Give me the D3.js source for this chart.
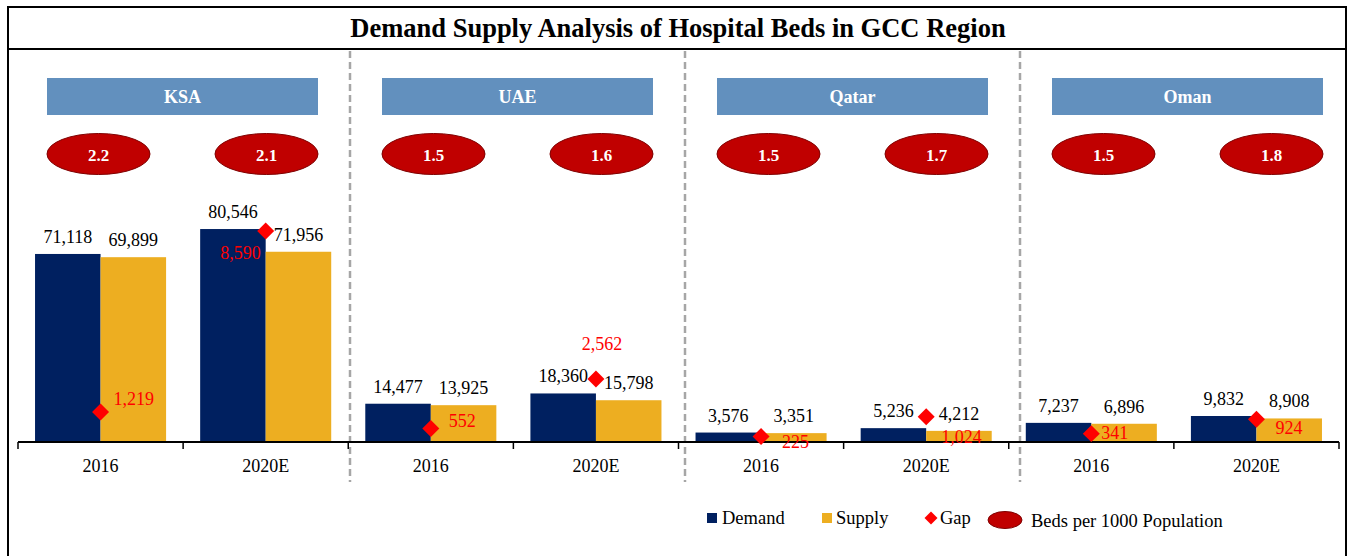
<!DOCTYPE html>
<html>
<head>
<meta charset="utf-8">
<script src="https://cdn.jsdelivr.net/npm/d3@7"></script>
<style>
  body { margin: 0; background: #fff; }
  svg text { font-family: "Times New Roman", "Liberation Serif", serif; }
</style>
</head>
<body>
<div id="chart"></div>
<script>
// chart data
const countries = ['KSA', 'UAE', 'Qatar', 'Oman'];
const years = ['2016', '2020E'];
const demand = [71118, 80546, 14477, 18360, 3576, 5236, 7237, 9832];
const supply = [69899, 71956, 13925, 15798, 3351, 4212, 6896, 8908];
const gap = [1219, 8590, 552, 2562, 225, 1024, 341, 924];
const bedsPer1000 = [2.2, 2.1, 1.5, 1.6, 1.5, 1.7, 1.5, 1.8];

// where each gap label sits next to its diamond (hand placed in the original)
const gapLabelOffset = [
  [13, -13, 'start'], [-5, 22, 'end'], [18, -8, 'start'], [6, -35, 'middle'],
  [21, 5, 'start'], [15, 20, 'start'], [10, -1, 'start'], [19, 8, 'start']
];

const width = 1353;
const height = 556;
const baseY = 442;
const demandColor = '#002060';
const supplyColor = '#EDAE21';
const gapColor = '#FF0000';
const headerColor = '#6290BE';
const ovalColor = '#C00000';

var rows = [];
countries.forEach(function(c, ci) {
  years.forEach(function(yr, yi) {
    var i = ci * years.length + yi;
    rows.push({
      country: c, year: yr, idx: i,
      demand: demand[i], supply: supply[i], gap: gap[i], beds: bedsPer1000[i]
    });
  });
});

var svg = d3.select('#chart')
  .append('svg')
  .attr('width', width)
  .attr('height', height);

// frame and title
svg.append('rect')
  .attr('x', 8).attr('y', 7)
  .attr('width', 1338).attr('height', 560)
  .attr('fill', 'none')
  .attr('stroke', '#000')
  .attr('stroke-width', 2);

svg.append('line')
  .attr('x1', 8).attr('x2', 1346)
  .attr('y1', 49).attr('y2', 49)
  .attr('stroke', '#000')
  .attr('stroke-width', 2);

svg.append('text')
  .attr('x', 678).attr('y', 37)
  .attr('text-anchor', 'middle')
  .attr('font-size', 26.5)
  .attr('font-weight', 'bold')
  .text('Demand Supply Analysis of Hospital Beds in GCC Region');

// scales
var x0 = d3.scaleBand().domain(countries).range([18, 1339]);
var x1 = d3.scaleBand().domain(years).range([0, x0.bandwidth()]);
var xs = d3.scaleBand().domain(['demand', 'supply'])
  .range([0, x1.bandwidth()])
  .paddingOuter(0.26);
var y = d3.scaleLinear().domain([0, 100000]).range([baseY, baseY - 264.4]);
var y2 = d3.scaleLinear().domain([0, 10000]).range([baseY, baseY - 245.6]);

var hx = d3.scaleBand().domain(countries).range([47, 1323])
  .paddingInner(64 / 335).paddingOuter(0);
var hy = d3.scalePoint().domain(years).range([51.5, hx.bandwidth() - 51.5]);

function bandX(d) { return x0(d.country) + x1(d.year); }

// dashed separators between countries
svg.selectAll('.sep')
  .data(countries.slice(0, -1))
  .enter()
  .append('line')
  .attr('class', 'sep')
  .attr('x1', function(c) { return hx(c) + hx.bandwidth() + 32; })
  .attr('x2', function(c) { return hx(c) + hx.bandwidth() + 32; })
  .attr('y1', 51).attr('y2', 482)
  .attr('stroke', '#A6A6A6')
  .attr('stroke-width', 2.5)
  .attr('stroke-dasharray', '7,4');

// country header boxes
var header = svg.selectAll('.header')
  .data(countries)
  .enter()
  .append('g')
  .attr('class', 'header')
  .attr('transform', function(c) { return 'translate(' + hx(c) + ',78)'; });

header.append('rect')
  .attr('width', hx.bandwidth())
  .attr('height', 37)
  .attr('fill', headerColor);

header.append('text')
  .attr('x', hx.bandwidth() / 2)
  .attr('y', 25)
  .attr('text-anchor', 'middle')
  .attr('font-size', 18)
  .attr('font-weight', 'bold')
  .attr('fill', '#fff')
  .text(function(c) { return c; });

// beds per 1000 ovals
var oval = svg.selectAll('.oval')
  .data(rows)
  .enter()
  .append('g')
  .attr('class', 'oval')
  .attr('transform', function(d) {
    return 'translate(' + (hx(d.country) + hy(d.year)) + ',154)';
  });

oval.append('ellipse')
  .attr('rx', 51.5).attr('ry', 20.5)
  .attr('fill', ovalColor)
  .attr('stroke', '#7F0000')
  .attr('stroke-width', 1);

oval.append('text')
  .attr('y', 7)
  .attr('text-anchor', 'middle')
  .attr('font-size', 17)
  .attr('font-weight', 'bold')
  .attr('fill', '#fff')
  .text(function(d) { return d.beds.toFixed(1); });

// bars
var fmt = d3.format(',');
var group = svg.selectAll('.grp')
  .data(rows)
  .enter()
  .append('g')
  .attr('class', 'grp')
  .attr('transform', function(d) { return 'translate(' + bandX(d) + ',0)'; });

['demand', 'supply'].forEach(function(key) {
  group.append('rect')
    .attr('x', xs(key))
    .attr('width', xs.bandwidth())
    .attr('y', function(d) { return y(d[key]); })
    .attr('height', function(d) { return baseY - y(d[key]); })
    .attr('fill', key === 'demand' ? demandColor : supplyColor);

  group.append('text')
    .attr('x', xs(key) + xs.bandwidth() / 2)
    .attr('y', function(d) { return y(d[key]) - 11; })
    .attr('text-anchor', 'middle')
    .attr('font-size', 18)
    .attr('fill', '#000')
    .text(function(d) { return fmt(d[key]); });
});

// axis
svg.append('line')
  .attr('x1', 18).attr('x2', 1339)
  .attr('y1', baseY).attr('y2', baseY)
  .attr('stroke', '#000')
  .attr('stroke-width', 2);

var tickXs = rows.map(bandX).concat([1339]);
svg.selectAll('.tick')
  .data(tickXs)
  .enter()
  .append('line')
  .attr('class', 'tick')
  .attr('x1', function(d) { return d; })
  .attr('x2', function(d) { return d; })
  .attr('y1', baseY).attr('y2', baseY + 7)
  .attr('stroke', '#000')
  .attr('stroke-width', 1.5);

svg.selectAll('.cat')
  .data(rows)
  .enter()
  .append('text')
  .attr('class', 'cat')
  .attr('x', function(d) { return bandX(d) + x1.bandwidth() / 2; })
  .attr('y', 472)
  .attr('text-anchor', 'middle')
  .attr('font-size', 18)
  .text(function(d) { return d.year; });

// gap diamonds
var diamond = d3.symbol().type(d3.symbolSquare).size(144);
var gapG = svg.selectAll('.gap')
  .data(rows)
  .enter()
  .append('g')
  .attr('class', 'gap')
  .attr('transform', function(d) {
    return 'translate(' + (bandX(d) + x1.bandwidth() / 2) + ',' + y2(d.gap) + ')';
  });

gapG.append('path')
  .attr('d', diamond)
  .attr('transform', 'rotate(45)')
  .attr('fill', gapColor);

gapG.append('text')
  .attr('x', function(d) { return gapLabelOffset[d.idx][0]; })
  .attr('y', function(d) { return gapLabelOffset[d.idx][1]; })
  .attr('dy', '0.35em')
  .attr('text-anchor', function(d) { return gapLabelOffset[d.idx][2]; })
  .attr('font-size', 18)
  .attr('fill', gapColor)
  .text(function(d) { return fmt(d.gap); });

// legend
var legend = svg.append('g').attr('class', 'legend').attr('font-size', 18.5);
legend.append('rect').attr('x', 707).attr('y', 513).attr('width', 10).attr('height', 10).attr('fill', demandColor);
legend.append('text').attr('x', 722).attr('y', 524).text('Demand');
legend.append('rect').attr('x', 822).attr('y', 513).attr('width', 10).attr('height', 10).attr('fill', supplyColor);
legend.append('text').attr('x', 836).attr('y', 524).text('Supply');
legend.append('path')
  .attr('d', d3.symbol().type(d3.symbolSquare).size(85))
  .attr('transform', 'translate(931,518) rotate(45)')
  .attr('fill', gapColor);
legend.append('text').attr('x', 940).attr('y', 524).text('Gap');
legend.append('ellipse')
  .attr('cx', 1005).attr('cy', 520).attr('rx', 17).attr('ry', 8.5)
  .attr('fill', ovalColor).attr('stroke', '#7F0000').attr('stroke-width', 1);
legend.append('text').attr('x', 1031).attr('y', 527).text('Beds per 1000 Population');
</script>
</body>
</html>
